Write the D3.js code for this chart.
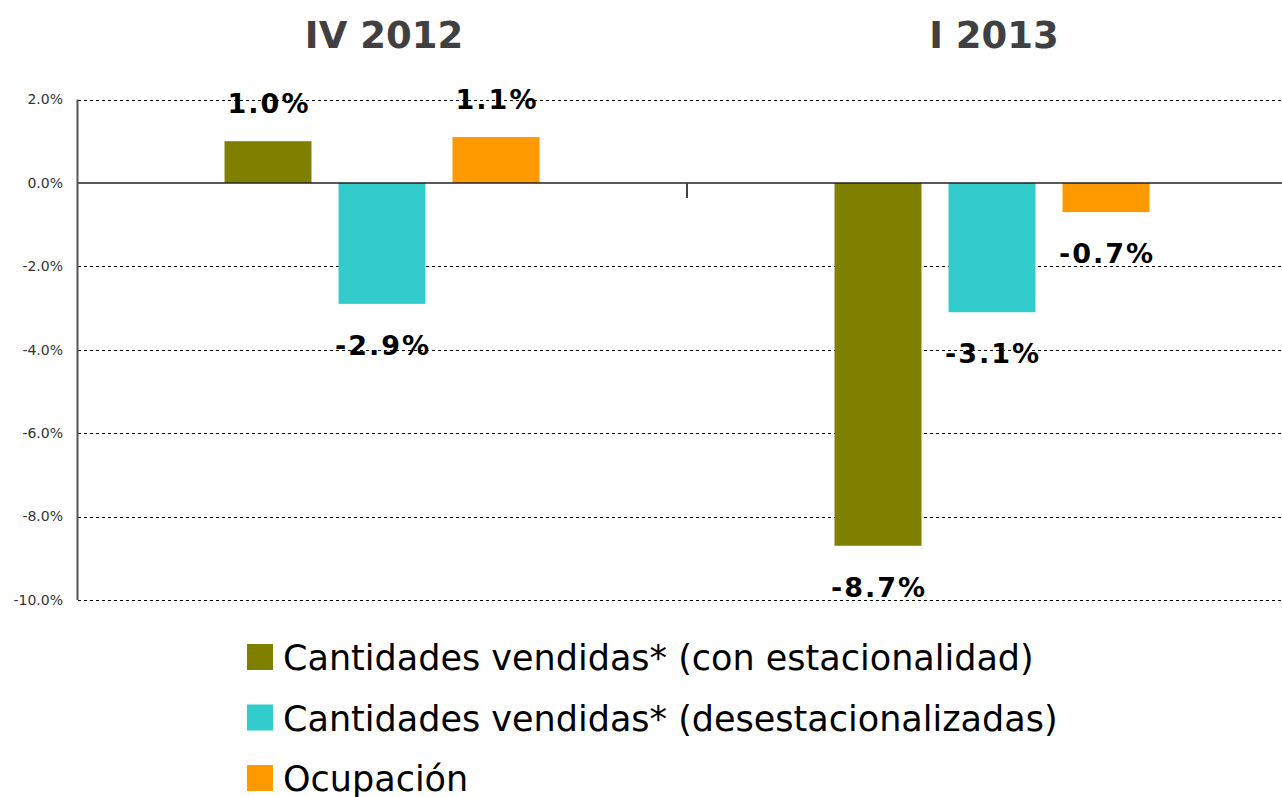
<!DOCTYPE html>
<meta charset="utf-8">
<style>
  body { margin: 0; background: #fff; }
  .tick-label { font: 14px "DejaVu Sans", sans-serif; fill: #333; text-anchor: end; }
  .grid { stroke: #000; stroke-width: 1; stroke-dasharray: 3,3; shape-rendering: crispEdges; }
  .value { font: bold 27px "DejaVu Sans", sans-serif; letter-spacing: 2px; fill: #000; text-anchor: middle; }
  .title { font: bold 37px "DejaVu Sans", sans-serif; fill: #404040; text-anchor: middle; }
  .legend { font: 35px "DejaVu Sans", sans-serif; fill: #000; }
</style>
<body>
<svg id="chart" width="1282" height="797"></svg>
</body>
<script src="https://cdnjs.cloudflare.com/ajax/libs/d3/7.8.5/d3.min.js"></script>
<script>
  const periods = ['IV 2012', 'I 2013']
  const series = [
    'Cantidades vendidas* (con estacionalidad)',
    'Cantidades vendidas* (desestacionalizadas)',
    'Ocupación'
  ]
  const colors = ['#808000', '#33CCCC', '#FF9900']
  const values = [
    [1.0, -2.9, 1.1],
    [-8.7, -3.1, -0.7]
  ]
  const yTicks = [2, 0, -2, -4, -6, -8, -10]

  const svg = d3.select('#chart')

  const y = d3.scaleLinear().domain([-10, 2]).range([600, 99.5])
  const x0 = d3.scaleBand().domain(periods).range([77, 1297])
  const x1 = d3.scaleBand().domain(d3.range(series.length))
      .range([0, x0.bandwidth()])
      .paddingInner(0.237)
      .paddingOuter(1.294)

  // gridlines
  svg.selectAll('line.grid')
      .data(yTicks.filter(d => d !== 0))
    .enter().append('line')
      .attr('class', 'grid')
      .attr('x1', 78).attr('x2', 1282)
      .attr('y1', d => Math.round(y(d)) + 0.5)
      .attr('y2', d => Math.round(y(d)) + 0.5)

  svg.selectAll('text.tick-label')
      .data(yTicks)
    .enter().append('text')
      .attr('class', 'tick-label')
      .attr('x', 63)
      .attr('y', d => y(d))
      .attr('dy', '.35em')
      .text(d => d.toFixed(1) + '%')

  // bars
  const group = svg.selectAll('g.period')
      .data(periods)
    .enter().append('g')
      .attr('class', 'period')
      .attr('transform', d => `translate(${x0(d)},0)`)

  group.selectAll('rect')
      .data((d, i) => values[i])
    .enter().append('rect')
      .attr('x', (d, i) => x1(i))
      .attr('width', x1.bandwidth())
      .attr('y', d => y(Math.max(d, 0)))
      .attr('height', d => Math.abs(y(d) - y(0)))
      .attr('fill', (d, i) => colors[i])

  group.selectAll('text.value')
      .data((d, i) => values[i])
    .enter().append('text')
      .attr('class', 'value')
      .attr('x', (d, i) => x1(i) + x1.bandwidth() / 2 + 1)
      .attr('y', d => d >= 0 ? y(d) - 28 : y(d) + 51)
      .text(d => d.toFixed(1) + '%')

  group.append('text')
      .attr('class', 'title')
      .attr('x', x0.bandwidth() / 2 + 2)
      .attr('y', 48)
      .text(d => d)

  // axes lines
  svg.append('line')
      .attr('x1', 78).attr('x2', 1282)
      .attr('y1', y(0)).attr('y2', y(0))
      .attr('stroke', '#222').attr('stroke-width', 1.5)

  svg.append('line')
      .attr('x1', 77.5).attr('x2', 77.5)
      .attr('y1', y(2)).attr('y2', y(-10))
      .attr('stroke', '#555').attr('stroke-width', 2)

  svg.append('line')
      .attr('x1', x0('I 2013')).attr('x2', x0('I 2013'))
      .attr('y1', y(0)).attr('y2', y(0) + 15)
      .attr('stroke', '#444').attr('stroke-width', 2)

  // legend
  const legend = svg.selectAll('g.legend-item')
      .data(series)
    .enter().append('g')
      .attr('class', 'legend-item')
      .attr('transform', (d, i) => `translate(247,${644 + i * 60.5})`)

  legend.append('rect')
      .attr('width', 26).attr('height', 26)
      .attr('fill', (d, i) => colors[i])

  legend.append('text')
      .attr('class', 'legend')
      .attr('x', 36)
      .attr('y', 26)
      .text(d => d)
</script>
